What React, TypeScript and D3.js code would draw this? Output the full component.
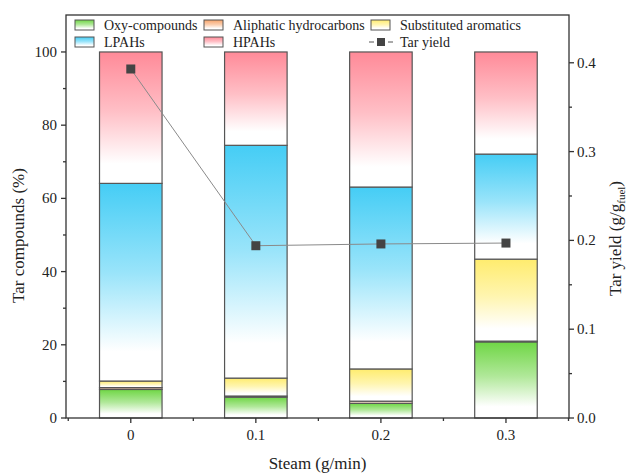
import React from "react";
import * as d3 from "d3";

const steam = [0, 0.1, 0.2, 0.3];
const oxyCompounds = [7.8, 5.7, 4.0, 20.8];
const aliphatic = [0.5, 0.3, 0.6, 0.2];
const substituted = [1.8, 4.9, 8.8, 22.4];
const lpahs = [54.0, 63.6, 49.7, 28.7];
const hpahs = [35.9, 25.5, 36.9, 27.9];
const tarYield = [0.393, 0.194, 0.196, 0.197];

const leftTicks = [0, 20, 40, 60, 80, 100];
const rightTicks = [0, 0.1, 0.2, 0.3, 0.4];

const series = [
  { key: "oxy", name: "Oxy-compounds", values: oxyCompounds, color: "#6fd645" },
  { key: "ali", name: "Aliphatic hydrocarbons", values: aliphatic, color: "#f7a46a" },
  { key: "sub", name: "Substituted aromatics", values: substituted, color: "#ffec6e" },
  { key: "lpa", name: "LPAHs", values: lpahs, color: "#45cdf5" },
  { key: "hpa", name: "HPAHs", values: hpahs, color: "#ff8a98" },
];

const W = 629;
const H = 475;
const margin = { top: 15, right: 60, bottom: 57, left: 66 };
const font = "'Liberation Serif', 'Times New Roman', serif";

export default function App() {
  const x0 = margin.left;
  const x1 = W - margin.right;
  const yb = H - margin.bottom;
  const yt = margin.top;

  const x = d3.scaleLinear().domain([-0.0518, 0.3504]).range([x0, x1]);
  const y = d3.scaleLinear().domain([0, 110.1]).range([yb, yt]);
  const y2 = d3.scaleLinear().domain([0, 0.4538]).range([yb, yt]);
  const barW = x(0.05) - x(0);

  // stacked layout
  const rows = steam.map((s, i) => {
    const r: any = { steam: s };
    series.forEach((se) => (r[se.key] = se.values[i]));
    return r;
  });
  const stacked = d3.stack().keys(series.map((s) => s.key))(rows);

  const line = d3
    .line<number>()
    .x((_, i) => x(steam[i]))
    .y((d) => y2(d));

  const minorX = [-0.05, 0.05, 0.15, 0.25, 0.35];
  const minorY = [10, 30, 50, 70, 90];
  const minorY2 = [0.05, 0.15, 0.25, 0.35];

  const legendPos = [
    { x: 75, y: 25 },
    { x: 204, y: 25 },
    { x: 371, y: 25 },
    { x: 75, y: 42 },
    { x: 204, y: 42 },
  ];

  return (
    <svg
      width={W}
      height={H}
      style={{ position: "absolute", left: 0, top: 0, background: "#fff" }}
      fontFamily={font}
    >
      <defs>
        {series.map((s) => (
          <linearGradient key={s.key} id={"g-" + s.key} x1="0" y1="0" x2="0" y2="1">
            <stop offset="0" stopColor={s.color} />
            <stop offset="0.45" stopColor={d3.interpolateRgb(s.color, "#fff")(0.45)} />
            <stop offset="0.85" stopColor="#fff" />
            <stop offset="1" stopColor="#fff" />
          </linearGradient>
        ))}
      </defs>

      {/* bars */}
      {stacked.map((layer, li) =>
        layer.map((d, i) => {
          const top = y(d[1]);
          const h = y(d[0]) - y(d[1]);
          return (
            <rect
              key={series[li].key + i}
              x={x(steam[i]) - barW / 2}
              y={top}
              width={barW}
              height={Math.max(h, 0)}
              fill={`url(#g-${series[li].key})`}
              stroke="#555"
              strokeWidth={1.2}
            />
          );
        })
      )}

      {/* tar yield line */}
      <path d={line(tarYield) || ""} fill="none" stroke="#8a8a8a" strokeWidth={1} />
      {tarYield.map((v, i) => (
        <rect key={i} x={x(steam[i]) - 4.5} y={y2(v) - 4.5} width={9} height={9} fill="#444" />
      ))}

      {/* frame */}
      <rect x={x0} y={yt} width={x1 - x0} height={yb - yt} fill="none" stroke="#333" strokeWidth={1.3} />

      {/* x axis ticks */}
      {steam.map((s) => (
        <g key={s}>
          <line x1={x(s)} x2={x(s)} y1={yb} y2={yb + 5} stroke="#333" strokeWidth={1.3} />
          <text x={x(s)} y={yb + 22} textAnchor="middle" fontSize={15} fill="#222">
            {s}
          </text>
        </g>
      ))}
      {minorX.map((s) => (
        <line key={s} x1={x(s)} x2={x(s)} y1={yb} y2={yb + 3} stroke="#333" strokeWidth={1.3} />
      ))}

      {/* left axis */}
      {leftTicks.map((t) => (
        <g key={t}>
          <line x1={x0} x2={x0 - 5} y1={y(t)} y2={y(t)} stroke="#333" strokeWidth={1.3} />
          <text x={x0 - 9} y={y(t) + 5} textAnchor="end" fontSize={15} fill="#222">
            {t}
          </text>
        </g>
      ))}
      {minorY.map((t) => (
        <line key={t} x1={x0} x2={x0 - 3} y1={y(t)} y2={y(t)} stroke="#333" strokeWidth={1.3} />
      ))}

      {/* right axis */}
      {rightTicks.map((t) => (
        <g key={t}>
          <line x1={x1} x2={x1 + 5} y1={y2(t)} y2={y2(t)} stroke="#333" strokeWidth={1.3} />
          <text x={x1 + 8} y={y2(t) + 5} textAnchor="start" fontSize={15} fill="#222">
            {t.toFixed(1)}
          </text>
        </g>
      ))}
      {minorY2.map((t) => (
        <line key={t} x1={x1} x2={x1 + 3} y1={y2(t)} y2={y2(t)} stroke="#333" strokeWidth={1.3} />
      ))}

      {/* axis titles */}
      <text x={(x0 + x1) / 2} y={H - 6} textAnchor="middle" fontSize={17} fill="#222">
        Steam (g/min)
      </text>
      <text
        transform={`translate(24, ${(yt + yb) / 2 + 19}) rotate(-90)`}
        textAnchor="middle"
        fontSize={17}
        fill="#222"
      >
        Tar compounds (%)
      </text>
      <text
        transform={`translate(621, ${(yt + yb) / 2 + 22}) rotate(-90)`}
        textAnchor="middle"
        fontSize={17}
        fill="#222"
      >
        Tar yield (g/g
        <tspan fontSize={11} dy={4}>
          fuel
        </tspan>
        <tspan dy={-4}>)</tspan>
      </text>

      {/* legend */}
      {series.map((s, i) => (
        <g key={s.key} transform={`translate(${legendPos[i].x}, ${legendPos[i].y})`}>
          <rect x={0} y={-5} width={19} height={10} fill={`url(#g-${s.key})`} stroke="#555" strokeWidth={1} />
          <text x={29} y={5} fontSize={14} fill="#222">
            {s.name}
          </text>
        </g>
      ))}
      <g transform="translate(371, 42)">
        <line x1={-2} x2={3} y1={0} y2={0} stroke="#555" strokeWidth={1} />
        <line x1={17} x2={22} y1={0} y2={0} stroke="#555" strokeWidth={1} />
        <rect x={6} y={-4} width={8} height={8} fill="#444" />
        <text x={29} y={5} fontSize={14} fill="#222">
          Tar yield
        </text>
      </g>
    </svg>
  );
}
